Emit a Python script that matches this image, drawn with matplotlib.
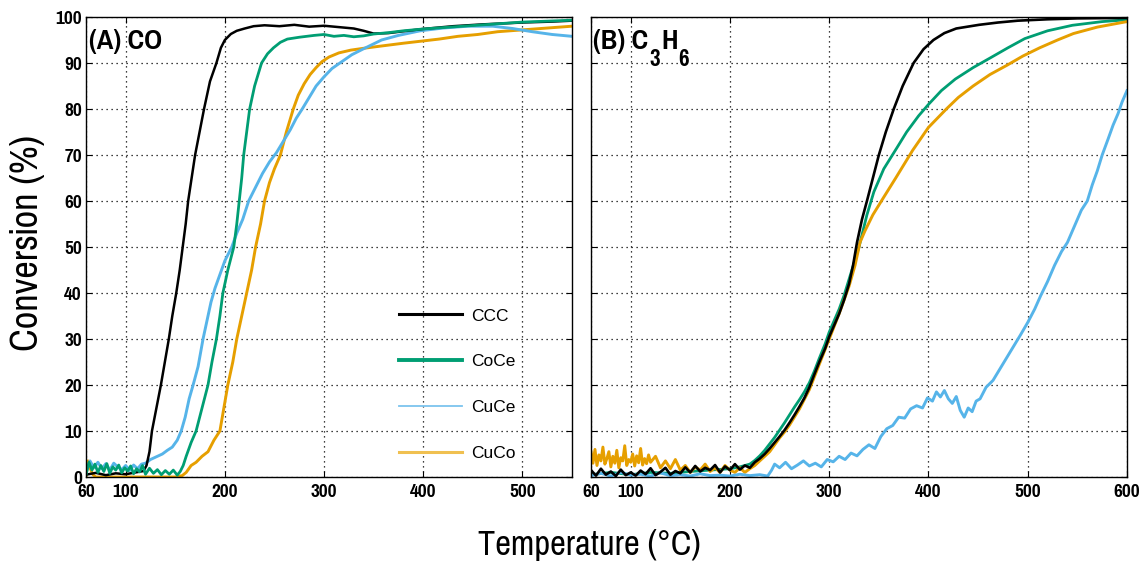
import matplotlib
matplotlib.use('Agg')
import matplotlib.pyplot as plt
from matplotlib import font_manager
from matplotlib.lines import Line2D

# --- (A) CO light-off curves, temperature (C) vs conversion (%)
CO_CCC_T = [60, 70, 80, 90, 100, 110, 118, 121, 124, 126.5, 131, 135.5, 139.5, 143.5, 147, 151,
            154.5, 157.5, 160.5, 163, 166.5, 170, 174.5, 179, 185, 191.5, 196, 200, 206, 212, 220,
            229, 240, 255, 270, 285, 300, 315, 330, 340, 350, 365, 380, 400, 430, 460, 500, 530, 550]
CO_CCC_Y = [0.5, 0.9, 0.4, 0.8, 0.6, 1.0, 1.3, 2.5, 5.5, 10, 15, 20, 25, 30, 35, 40,
            45, 50, 55, 60, 65, 70, 75, 80, 86, 90, 93.3, 95, 96.3, 97, 97.5,
            98, 98.2, 98.0, 98.3, 97.9, 98.1, 97.8, 97.5, 97.0, 96.4, 96.5, 96.9, 97.4, 98.0, 98.4, 98.8, 99.0, 99.2]

CO_COCE_T = [60, 63, 66, 69, 72, 75, 78, 81, 84, 87, 90, 93, 96, 99, 102, 105, 108, 111, 114, 117, 120,
             124, 128, 132, 136, 140, 144, 148, 152, 155, 158, 161, 166, 171, 177, 183, 187, 191.5,
             195, 198, 203, 209, 212, 214.5, 217, 219, 222, 225, 230, 237, 243, 249, 256, 263, 275,
             290, 300, 310, 320, 330, 340, 350, 365, 380, 400, 420, 440, 460, 480, 500, 525, 550]
CO_COCE_Y = [0.5, 3.2, 1.5, 2.8, 1.0, 2.5, 1.2, 2.9, 0.8, 2.2, 1.5, 2.6, 0.9, 2.0, 1.3, 2.4, 0.7, 1.8, 1.1, 2.5, 0.6,
             1.9, 0.8, 1.6, 0.5, 1.4, 0.6, 1.5, 0.4, 1.2, 2.5, 4.5, 7.5, 10, 15, 20, 25, 30,
             35, 40, 45, 50, 55, 60, 65, 70, 75, 80, 85, 90, 92, 93.3, 94.5, 95.2, 95.6,
             96.0, 96.2, 95.8, 96.0, 95.7, 95.9, 96.3, 96.6, 97.0, 97.4, 97.7, 98.0, 98.3, 98.6, 98.9, 99.1, 99.3]

CO_CUCE_T = [60, 64, 68, 72, 76, 80, 84, 88, 92, 96, 100, 104, 108, 112, 116, 120,
             125, 130, 137, 142, 147, 152, 156, 160, 164, 168, 173, 178, 182, 186, 190, 195,
             200, 207, 212, 218, 224, 231, 238, 245, 252, 259, 266, 272, 278, 285, 292, 300,
             308, 316, 328, 339, 358, 375, 397, 420, 445, 470, 490, 510, 530, 550]
CO_CUCE_Y = [1.0, 3.5, 2.0, 3.2, 1.8, 2.9, 1.5, 3.0, 2.2, 1.6, 2.5, 1.4, 2.6, 1.8, 2.8, 3.0,
             3.8, 4.3, 5.0, 5.8, 6.5, 8.0, 10, 13, 17, 20, 24, 30, 34, 38, 41, 44,
             47, 50, 53, 56, 60, 63, 66, 68.5, 70.5, 73, 75.5, 78, 80, 82.5, 85, 87,
             88.8, 90, 91.8, 93, 95, 96, 97, 97.6, 98, 98, 97.5, 96.8, 96.2, 95.8]

CO_CUCO_T = [60, 62, 64, 67, 70, 80, 90, 100, 110, 120, 130, 140, 150, 157, 161, 166, 171, 177, 183,
             189, 195, 199, 203, 208, 212, 217, 222, 227, 231, 236, 240, 245, 250, 256, 262, 269,
             274, 280, 286, 292, 298, 305, 315, 327, 340, 358, 380, 400, 416, 435, 455, 475, 500, 525, 550]
CO_CUCO_Y = [0, 3.5, 2.0, 0.5, 0, 0, 0, 0, 0, 0, 0, 0, 0, 0.3, 1.0, 2.5, 3.2, 4.5, 5.5,
             8, 10, 15, 20, 25, 30, 35, 40, 45, 50, 55, 60, 64, 67, 70, 75, 80,
             83, 85.5, 87.5, 89, 90.3, 91.3, 92.2, 92.8, 93.2, 93.7, 94.3, 94.8, 95.2, 95.8, 96.2, 96.8, 97.2, 97.6, 98]

# --- (B) C3H6 light-off curves
HC_CCC_T = [60, 65, 70, 75, 80, 85, 90, 95, 100, 105, 110, 115, 120, 125, 130, 135, 140, 145, 150, 155,
            160, 165, 170, 175, 180, 185, 190, 195, 200, 205, 210, 215, 220, 225, 230, 235, 240, 245,
            250, 255, 260, 265, 270, 275, 280, 285, 290, 296, 300, 305, 310, 315, 320, 324, 328, 333,
            338, 344, 350, 357, 365, 374, 385, 395, 405, 416, 428, 451, 470, 490, 520, 550, 600]
HC_CCC_Y = [1.5, 0.3, 1.8, 0.5, 1.2, 0.2, 1.6, 0.4, 1.0, 0.3, 1.4, 0.6, 1.9, 0.4, 1.1, 2.0, 0.5, 1.3, 0.8, 2.1,
            1.0, 2.4, 1.2, 2.0, 1.5, 2.6, 1.0, 2.3, 1.5, 2.8, 1.6, 2.5, 2.0, 3.2, 4.0, 5.0, 6.2, 7.5,
            8.8, 10.2, 11.8, 13.5, 15.3, 17.2, 19.5, 22.3, 25, 28, 30.5, 33, 35.5, 38.5, 42, 46, 51, 56,
            60, 65, 70, 75, 80, 85, 90, 93, 95, 96.5, 97.5, 98.3, 98.8, 99.2, 99.5, 99.7, 99.8]

HC_COCE_T = [60, 80, 100, 120, 140, 160, 180, 200, 210, 220, 225, 230, 235, 240, 245, 250, 255, 260,
             265, 270, 275, 280, 285, 290, 296, 300, 305, 310, 315, 320, 325, 330, 338, 345, 355,
             368, 378, 390, 400, 413, 427, 445, 463, 480, 497, 520, 545, 575, 600]
HC_COCE_Y = [0.5, 1.0, 0.5, 1.0, 0.8, 1.2, 1.5, 1.8, 2.2, 2.8, 3.6, 4.6, 5.8, 7.2, 8.6, 10.2, 11.8, 13.5,
             15.2, 16.8, 18.5, 20.5, 23, 25.8, 29, 31.5, 34, 36.5, 39.5, 43, 46.5, 50, 57, 62, 67,
             71.5, 75, 78.5, 81, 84, 86.5, 89, 91.2, 93.3, 95.3, 97, 98.2, 99, 99.4]

HC_CUCE_T = [60, 70, 80, 90, 100, 110, 120, 130, 140, 150, 160, 170, 180, 190, 200, 210, 220, 230,
             238, 242, 245, 250, 256, 262, 268, 274, 280, 286, 292, 298, 304, 310, 316, 322, 328, 334,
             340, 346, 352, 358, 364, 370, 376, 382, 388, 394, 399, 404, 408, 412, 416, 420, 424, 428,
             432, 436, 440, 444, 448, 452, 458, 465, 472, 479, 486, 493, 500, 507, 513, 520, 527, 534,
             540, 547, 554, 560, 565, 570, 575, 581, 586, 591, 595, 600]
HC_CUCE_Y = [0.3, 0.8, 0.2, 1.0, 0.4, 0.6, 0.2, 0.9, 0.3, 0.5, 0.2, 0.7, 0.3, 0.4, 0.2, 0.6, 0.3, 0.5,
             0.2, 1.5, 2.8, 2.0, 3.2, 1.8, 2.6, 3.5, 2.4, 3.0, 2.2, 3.8, 3.3, 4.5, 3.8, 5.2, 4.6, 6.0,
             7.0, 6.2, 8.8, 10.5, 11.2, 13.0, 12.8, 14.8, 15.5, 15.0, 17.2, 16.5, 18.5, 17.4, 18.8, 17.0, 16.0, 17.5,
             14.5, 13.0, 15.0, 14.2, 16.5, 17.0, 19.5, 21.0, 23.5, 26.0, 28.5, 31.0, 33.6, 36.5, 39.4, 42.5, 46.0, 49.0,
             51.0, 54.5, 58.0, 60.0, 63.5, 66.5, 70.0, 73.5, 76.5, 79.0, 81.5, 84.0]

HC_CUCO_T = [60, 62, 64, 66, 68, 70, 72, 74, 76, 78, 80, 82, 84, 86, 88, 90, 92, 94, 96, 98,
             100, 102, 104, 106, 108, 110, 112, 114, 116, 118, 120,
             125, 130, 135, 140, 145, 150, 155, 160, 165, 170, 175, 180, 185, 190, 195, 200, 205, 210,
             215, 220, 225, 230, 235, 240, 245, 250, 255, 260, 270, 280, 290, 300, 310, 320, 326, 331,
             336, 344, 354, 367, 384, 400, 418, 430, 445, 462, 479, 495, 512, 530, 546, 570, 600]
HC_CUCO_Y = [5.5, 3.0, 6.0, 2.5, 4.8, 3.5, 6.5, 2.8, 4.0, 5.5, 2.2, 4.5, 3.0, 5.8, 2.0, 4.2, 3.5, 6.8, 2.5, 3.8,
             3.2, 5.0, 2.4, 4.6, 3.1, 6.2, 2.6, 4.0, 2.9, 4.8, 3.2,
             4.5, 2.0, 3.5, 1.8, 3.8, 1.5, 2.5, 1.0, 2.2, 1.5, 2.8, 1.2, 2.0, 1.0, 2.5, 1.5, 1.0, 2.0,
             1.0, 1.8, 2.5, 3.5, 4.5, 5.5, 7.0, 8.5, 9.8, 11.3, 14.8, 19, 24.5, 30, 35.5, 41.5, 46, 51,
             53.5, 57, 60.5, 65, 71, 76, 80, 82.5, 85, 87.5, 89.5, 91.5, 93.3, 95, 96.4, 97.8, 99]

CO_XTICKS = [60, 100, 200, 300, 400, 500]
HC_XTICKS = [60, 100, 200, 300, 400, 500, 600]
LABELS = ['CCC', 'CoCe', 'CuCe', 'CuCo']
COLORS = {'CCC': '#000000', 'CoCe': '#009E73', 'CuCe': '#56B4E9', 'CuCo': '#E69F00'}

# a Helvetica-Narrow look-alike, whichever is installed
installed = {f.name for f in font_manager.fontManager.ttflist}
NARROW = 'Liberation Sans'
for name in ['Liberation Sans Narrow', 'Arial Narrow', 'Nimbus Sans Narrow', 'Pragati Narrow',
             'Roboto Condensed', 'PT Sans Narrow', 'Archivo Narrow']:
    if name in installed:
        NARROW = name
        break

W, H = 1142, 563
fig = plt.figure(figsize=(W / 100, H / 100), dpi=100)
ax_co = fig.add_axes([86 / W, 1 - 477 / H, (572 - 86) / W, 460 / H])
ax_hc = fig.add_axes([591 / W, 1 - 477 / H, (1127 - 591) / W, 460 / H])


def style_axes(ax, xmax, xticks, left_labels):
    ax.set_xlim(60, xmax)
    ax.set_ylim(0, 100)
    ax.set_xticks(xticks)
    ax.set_yticks(range(0, 101, 10))
    ax.set_axisbelow(True)
    ax.grid(True, color='k', linestyle=(0, (1, 3)), linewidth=0.9)
    ax.tick_params(direction='in', top=True, right=True, length=4, width=0.8,
                   labelsize=15, labelleft=left_labels)
    ax.tick_params(axis='x', pad=5)
    ax.tick_params(axis='y', pad=3)
    for lab in ax.get_xticklabels() + ax.get_yticklabels():
        lab.set_fontfamily(NARROW)
        lab.set_fontweight('bold')
    for sp in ax.spines.values():
        sp.set_linewidth(1.0)


style_axes(ax_co, 550, CO_XTICKS, True)
style_axes(ax_hc, 600, HC_XTICKS, False)

# draw order follows what sits on top in the original
ax_co.plot(CO_CUCO_T, CO_CUCO_Y, color=COLORS['CuCo'], lw=2.1)
ax_co.plot(CO_CUCE_T, CO_CUCE_Y, color=COLORS['CuCe'], lw=2.1)
ax_co.plot(CO_CCC_T, CO_CCC_Y, color=COLORS['CCC'], lw=1.8)
ax_co.plot(CO_COCE_T, CO_COCE_Y, color=COLORS['CoCe'], lw=2.0)

ax_hc.plot(HC_COCE_T, HC_COCE_Y, color=COLORS['CoCe'], lw=2.0)
ax_hc.plot(HC_CUCO_T, HC_CUCO_Y, color=COLORS['CuCo'], lw=2.1)
ax_hc.plot(HC_CUCE_T, HC_CUCE_Y, color=COLORS['CuCe'], lw=2.1)
ax_hc.plot(HC_CCC_T, HC_CCC_Y, color=COLORS['CCC'], lw=1.9)

# legend handles as drawn in the original key
handles = [Line2D([], [], color='#000000', lw=2.2),
           Line2D([], [], color='#009E73', lw=2.8),
           Line2D([], [], color='#7CC4EE', lw=1.3),
           Line2D([], [], color='#F0C050', lw=2.2)]
ax_co.legend(handles, LABELS, loc='upper left', bbox_to_anchor=(0.644, 0.3665),
             frameon=False, borderpad=0, borderaxespad=0, handlelength=3.65,
             handletextpad=0.48, labelspacing=1.77,
             prop={'family': 'Liberation Sans', 'size': 12.5})

# panel labels
ax_co.text(0.006, 0.93, '(A) CO', transform=ax_co.transAxes, va='baseline',
           family=NARROW, weight='bold', fontsize=22)
t1 = ax_hc.text(0.004, 0.93, '(B) C', transform=ax_hc.transAxes, va='baseline',
                family=NARROW, weight='bold', fontsize=22)
t2 = ax_hc.annotate('3', xy=(1, 0.93), xycoords=(t1, 'axes fraction'), xytext=(1, -12),
                    textcoords='offset points', va='baseline', family=NARROW,
                    weight='bold', fontsize=18)
t3 = ax_hc.annotate('H', xy=(1, 0.93), xycoords=(t2, 'axes fraction'), xytext=(1, 0),
                    textcoords='offset points', va='baseline', family=NARROW,
                    weight='bold', fontsize=22)
ax_hc.annotate('6', xy=(1, 0.93), xycoords=(t3, 'axes fraction'), xytext=(0, -12),
               textcoords='offset points', va='baseline', family=NARROW,
               weight='bold', fontsize=18)

fig.text(0.024, 1 - 243 / H, 'Conversion (%)', rotation=90, ha='center', va='center',
         family=NARROW, fontsize=30)
fig.text(0.516, 1 - 545 / H, 'Temperature (\u00b0C)', ha='center', va='center',
         family=NARROW, fontsize=27)

fig.savefig('out.png', dpi=100)
